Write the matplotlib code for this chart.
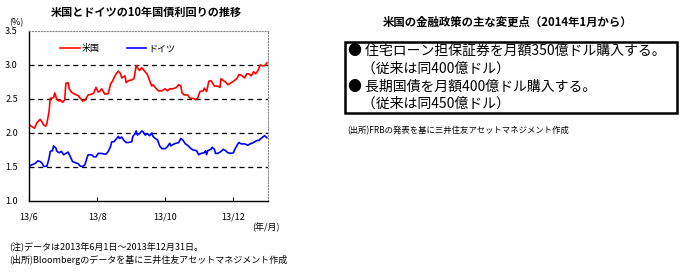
import matplotlib
matplotlib.use("Agg")
import matplotlib.pyplot as plt
import pandas as pd
from matplotlib.patches import Rectangle

plt.rcParams['font.family'] = ['Noto Sans CJK JP', 'DejaVu Sans']

# ---- data ----
us_dates = ["2013-06-01", "2013-06-03", "2013-06-06", "2013-06-08", "2013-06-11", "2013-06-12",
            "2013-06-14", "2013-06-16", "2013-06-17", "2013-06-19", "2013-06-20", "2013-06-23",
            "2013-06-24", "2013-06-26", "2013-06-28", "2013-06-30", "2013-07-01", "2013-07-03",
            "2013-07-04", "2013-07-06", "2013-07-07", "2013-07-09", "2013-07-12", "2013-07-15",
            "2013-07-17", "2013-07-19", "2013-07-21", "2013-07-24", "2013-07-27", "2013-07-29",
            "2013-07-31", "2013-08-02", "2013-08-03", "2013-08-05", "2013-08-08", "2013-08-11",
            "2013-08-13", "2013-08-15", "2013-08-16", "2013-08-18", "2013-08-20", "2013-08-22",
            "2013-08-23", "2013-08-26", "2013-08-27", "2013-08-29", "2013-09-01", "2013-09-03",
            "2013-09-05", "2013-09-07", "2013-09-08", "2013-09-10", "2013-09-13", "2013-09-15",
            "2013-09-17", "2013-09-19", "2013-09-20", "2013-09-23", "2013-09-25", "2013-09-28",
            "2013-10-01", "2013-10-03", "2013-10-05", "2013-10-08", "2013-10-11", "2013-10-13",
            "2013-10-15", "2013-10-16", "2013-10-18", "2013-10-21", "2013-10-23", "2013-10-26",
            "2013-10-28", "2013-10-30", "2013-11-01", "2013-11-04", "2013-11-05", "2013-11-07",
            "2013-11-09", "2013-11-11", "2013-11-14", "2013-11-17", "2013-11-19", "2013-11-20",
            "2013-11-22", "2013-11-24", "2013-11-26", "2013-11-29", "2013-12-01", "2013-12-04",
            "2013-12-06", "2013-12-08", "2013-12-11", "2013-12-13", "2013-12-15", "2013-12-17",
            "2013-12-19", "2013-12-21", "2013-12-23", "2013-12-25", "2013-12-27", "2013-12-29",
            "2013-12-31"]
us_yield = [2.12, 2.10, 2.07, 2.15, 2.20, 2.18,
            2.12, 2.10, 2.14, 2.32, 2.51, 2.52,
            2.59, 2.49, 2.47, 2.48, 2.45, 2.49,
            2.73, 2.74, 2.65, 2.60, 2.57, 2.55,
            2.51, 2.47, 2.48, 2.56, 2.57, 2.59,
            2.67, 2.60, 2.61, 2.65, 2.57, 2.58,
            2.72, 2.77, 2.81, 2.87, 2.91, 2.87,
            2.81, 2.84, 2.74, 2.77, 2.78, 2.80,
            2.99, 2.94, 2.92, 2.96, 2.90, 2.86,
            2.77, 2.69, 2.71, 2.65, 2.62, 2.62,
            2.65, 2.62, 2.65, 2.65, 2.67, 2.71,
            2.69, 2.59, 2.56, 2.56, 2.51, 2.51,
            2.49, 2.51, 2.61, 2.62, 2.66, 2.61,
            2.76, 2.77, 2.69, 2.69, 2.67, 2.80,
            2.77, 2.75, 2.71, 2.74, 2.76, 2.80,
            2.86, 2.85, 2.81, 2.87, 2.87, 2.84,
            2.90, 2.87, 2.92, 3.00, 2.99, 2.99,
            3.03]

de_dates = ["2013-06-01", "2013-06-03", "2013-06-05", "2013-06-07", "2013-06-09", "2013-06-11",
            "2013-06-13", "2013-06-14", "2013-06-17", "2013-06-19", "2013-06-20", "2013-06-22",
            "2013-06-23", "2013-06-25", "2013-06-26", "2013-06-28", "2013-06-30", "2013-07-02",
            "2013-07-04", "2013-07-06", "2013-07-08", "2013-07-10", "2013-07-13", "2013-07-15",
            "2013-07-17", "2013-07-19", "2013-07-21", "2013-07-23", "2013-07-24", "2013-07-27",
            "2013-07-29", "2013-07-31", "2013-08-02", "2013-08-05", "2013-08-07", "2013-08-09",
            "2013-08-11", "2013-08-13", "2013-08-14", "2013-08-16", "2013-08-18", "2013-08-20",
            "2013-08-21", "2013-08-23", "2013-08-25", "2013-08-27", "2013-08-29", "2013-09-01",
            "2013-09-02", "2013-09-04", "2013-09-05", "2013-09-06", "2013-09-08", "2013-09-10",
            "2013-09-11", "2013-09-13", "2013-09-15", "2013-09-17", "2013-09-19", "2013-09-20",
            "2013-09-22", "2013-09-24", "2013-09-26", "2013-09-28", "2013-10-01", "2013-10-03",
            "2013-10-05", "2013-10-06", "2013-10-09", "2013-10-11", "2013-10-13", "2013-10-15",
            "2013-10-17", "2013-10-19", "2013-10-21", "2013-10-24", "2013-10-26", "2013-10-29",
            "2013-10-31", "2013-11-02", "2013-11-05", "2013-11-06", "2013-11-07", "2013-11-08",
            "2013-11-11", "2013-11-12", "2013-11-14", "2013-11-15", "2013-11-17", "2013-11-20",
            "2013-11-22", "2013-11-24", "2013-11-26", "2013-11-29", "2013-12-01", "2013-12-02",
            "2013-12-05", "2013-12-06", "2013-12-08", "2013-12-11", "2013-12-14", "2013-12-16",
            "2013-12-19", "2013-12-22", "2013-12-24", "2013-12-25", "2013-12-28", "2013-12-29",
            "2013-12-31"]
de_yield = [1.50, 1.53, 1.54, 1.56, 1.59, 1.58,
            1.55, 1.51, 1.51, 1.63, 1.73, 1.74,
            1.81, 1.78, 1.73, 1.71, 1.73, 1.68,
            1.70, 1.72, 1.65, 1.58, 1.56, 1.55,
            1.51, 1.51, 1.53, 1.64, 1.68, 1.68,
            1.65, 1.65, 1.70, 1.70, 1.69, 1.69,
            1.73, 1.80, 1.87, 1.87, 1.91, 1.95,
            1.92, 1.94, 1.89, 1.86, 1.86, 1.87,
            1.95, 1.99, 2.03, 1.97, 1.99, 2.03,
            2.02, 1.97, 1.99, 1.96, 2.00, 1.95,
            1.92, 1.90, 1.81, 1.77, 1.77, 1.80,
            1.85, 1.81, 1.84, 1.85, 1.86, 1.92,
            1.89, 1.84, 1.82, 1.77, 1.75, 1.74,
            1.68, 1.70, 1.71, 1.74, 1.68, 1.74,
            1.76, 1.79, 1.76, 1.70, 1.70, 1.73,
            1.76, 1.74, 1.71, 1.70, 1.71, 1.75,
            1.84, 1.86, 1.84, 1.84, 1.82, 1.84,
            1.86, 1.89, 1.89, 1.91, 1.95, 1.96,
            1.93]

series_names = ["米国", "ドイツ"]
y_ticks = [1.0, 1.5, 2.0, 2.5, 3.0, 3.5]
x_tick_dates = ["2013-06-01", "2013-08-01", "2013-10-01", "2013-12-01"]
x_tick_labels = ["13/6", "13/8", "13/10", "13/12"]

left_title = "米国とドイツの10年国債利回りの推移"
right_title = "米国の金融政策の主な変更点（2014年1月から）"
box_lines = ["● 住宅ローン担保証券を月額350億ドル購入する。",
             "　（従来は同400億ドル）",
             "● 長期国債を月額400億ドル購入する。",
             "　（従来は同450億ドル）"]
note_lines = ["(注)データは2013年6月1日～2013年12月31日。",
              "(出所)Bloombergのデータを基に三井住友アセットマネジメント作成"]
right_source = "(出所)FRBの発表を基に三井住友アセットマネジメント作成"

# ---- figure ----
W, H = 685, 275
fig = plt.figure(figsize=(W / 100, H / 100), dpi=100)

def fx(px):
    return px / W

def fy(py):
    return 1 - py / H

ax = fig.add_axes([fx(29), fy(201), fx(268) - fx(29), fy(31) - fy(201)])
ax.plot(pd.to_datetime(us_dates), us_yield, color="#ff0000", lw=1.2, label=series_names[0])
ax.plot(pd.to_datetime(de_dates), de_yield, color="#0000ff", lw=1.2, label=series_names[1])

ax.set_xlim(pd.Timestamp("2013-06-01"), pd.Timestamp("2014-01-01"))
ax.set_ylim(1.0, 3.5)
ax.set_yticks(y_ticks)
ax.set_yticklabels([f"{v:.1f}" for v in y_ticks], fontsize=6.5)
ax.set_xticks(pd.to_datetime(x_tick_dates))
ax.set_xticklabels(x_tick_labels, fontsize=6.5)
ax.tick_params(axis='y', length=0, pad=8)
ax.tick_params(axis='x', direction='in', length=3, width=0.8, pad=8)
for v in [1.5, 2.0, 2.5, 3.0]:
    ax.axhline(v, color="black", lw=0.9, ls=(0, (4, 3)), zorder=0)
ax.spines['left'].set_color('black')
ax.spines['bottom'].set_color('black')
ax.spines['left'].set_linewidth(1.0)
ax.spines['bottom'].set_linewidth(1.0)
for s in ['top', 'right']:
    ax.spines[s].set_color('#888888')
    ax.spines[s].set_linewidth(0.8)
    ax.spines[s].set_linestyle(':')

leg = ax.legend(loc='upper left', bbox_to_anchor=(0.095, 0.97), ncol=2, frameon=False,
                fontsize=6.5, handlelength=2.2, handletextpad=0.2, columnspacing=3.0)

fig.text(fx(146), fy(12), left_title, fontsize=8, fontweight='bold', ha='center', va='center')
fig.text(fx(16), fy(23), "(%)", fontsize=6.5, ha='center', va='center')
fig.text(fx(280), fy(227), "(年/月)", fontsize=6.5, ha='right', va='center')
fig.text(fx(9), fy(247), note_lines[0], fontsize=6.5, ha='left', va='center')
fig.text(fx(9), fy(260), note_lines[1], fontsize=6.5, ha='left', va='center')

# ---- right panel ----
fig.text(fx(508), fy(22), right_title, fontsize=8.2, fontweight='bold', ha='center', va='center')
fig.patches.append(Rectangle((fx(345), fy(113)), fx(677) - fx(345), fy(42) - fy(113),
                             transform=fig.transFigure, fill=False, edgecolor='black', lw=1.8))
for i, line in enumerate(box_lines):
    fig.text(fx(348), fy(51 + i * 17.7), line, fontsize=10, ha='left', va='center')
fig.text(fx(347), fy(131), right_source, fontsize=6, ha='left', va='center')

fig.savefig("out.png", dpi=100)
